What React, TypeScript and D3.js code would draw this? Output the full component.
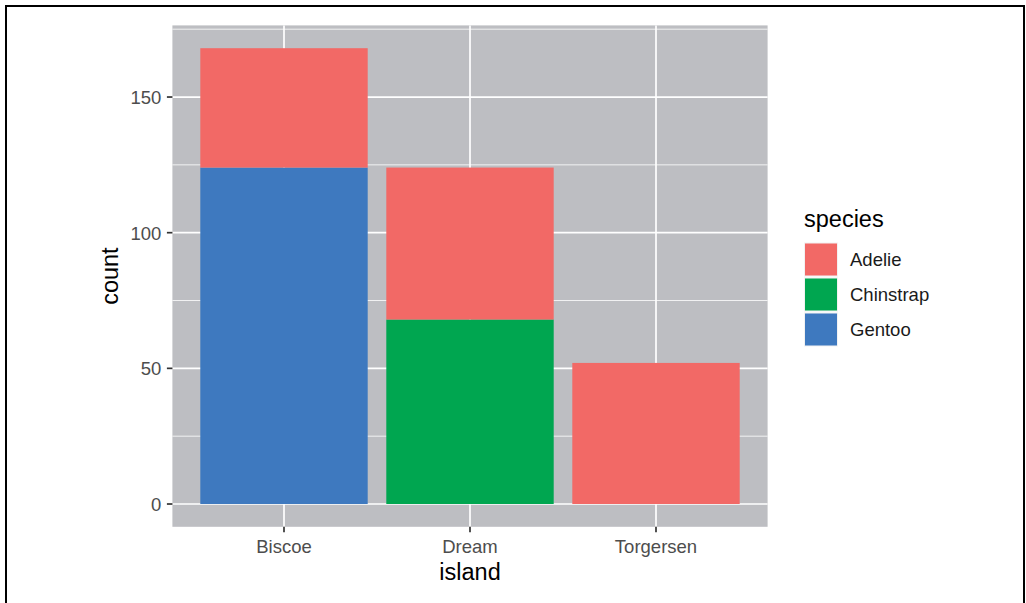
import React, { useEffect, useRef } from "react";
import * as d3 from "d3";

const islands = ["Biscoe", "Dream", "Torgersen"];
const speciesNames = ["Adelie", "Chinstrap", "Gentoo"];
const adelieCounts = [44, 56, 52];
const chinstrapCounts = [0, 68, 0];
const gentooCounts = [124, 0, 0];
const speciesColors = ["#F26966", "#00A650", "#3E79BF"];
const yMajorTicks = [0, 50, 100, 150];
const yMinorTicks = [25, 75, 125, 175];

const App: React.FC = () => {
  const svgRef = useRef<SVGSVGElement | null>(null);

  useEffect(() => {
    if (!svgRef.current) return;
    const svg = d3.select(svgRef.current);
    svg.selectAll("*").remove();

    const width = 1026;
    const height = 603;
    const font = "'Liberation Sans', Arial, sans-serif";
    const tickSize = 18.5;
    const titleSize = 23.5;

    svg.attr("width", width).attr("height", height);

    // outer frame
    svg
      .append("rect")
      .attr("x", 6)
      .attr("y", 6)
      .attr("width", 1018)
      .attr("height", 620)
      .attr("fill", "white")
      .attr("stroke", "black")
      .attr("stroke-width", 2);

    const panel = { left: 172.4, right: 767.6, top: 25.4, bottom: 526.8 };

    const rows = islands.map((island, i) => ({
      island,
      Adelie: adelieCounts[i],
      Chinstrap: chinstrapCounts[i],
      Gentoo: gentooCounts[i],
    }));
    const totals = rows.map((r) => r.Adelie + r.Chinstrap + r.Gentoo);
    const maxTotal = d3.max(totals) ?? 0;

    const y = d3
      .scaleLinear()
      .domain([-maxTotal * 0.05, maxTotal * 1.05])
      .range([panel.bottom, panel.top]);

    const x = d3
      .scalePoint<string>()
      .domain(islands)
      .range([panel.left, panel.right])
      .padding(0.6);
    const step = x.step();
    const barW = step * 0.9;

    const color = d3.scaleOrdinal<string>().domain(speciesNames).range(speciesColors);

    // panel background
    svg
      .append("rect")
      .attr("x", panel.left)
      .attr("y", panel.top)
      .attr("width", panel.right - panel.left)
      .attr("height", panel.bottom - panel.top)
      .attr("fill", "#BDBEC2");

    const grid = svg.append("g");
    grid
      .selectAll("line.minor")
      .data(yMinorTicks)
      .enter()
      .append("line")
      .attr("x1", panel.left)
      .attr("x2", panel.right)
      .attr("y1", (d) => y(d))
      .attr("y2", (d) => y(d))
      .attr("stroke", "white")
      .attr("stroke-width", 0.8);
    grid
      .selectAll("line.major")
      .data(yMajorTicks)
      .enter()
      .append("line")
      .attr("x1", panel.left)
      .attr("x2", panel.right)
      .attr("y1", (d) => y(d))
      .attr("y2", (d) => y(d))
      .attr("stroke", "white")
      .attr("stroke-width", 1.7);
    grid
      .selectAll("line.vmajor")
      .data(islands)
      .enter()
      .append("line")
      .attr("x1", (d) => x(d)!)
      .attr("x2", (d) => x(d)!)
      .attr("y1", panel.top)
      .attr("y2", panel.bottom)
      .attr("stroke", "white")
      .attr("stroke-width", 1.7);

    // stacked bars: Gentoo/Chinstrap at bottom, Adelie on top (ggplot order)
    const stack = d3
      .stack<(typeof rows)[number]>()
      .keys(["Gentoo", "Chinstrap", "Adelie"]);
    const series = stack(rows);

    series.forEach((s) => {
      svg
        .append("g")
        .selectAll("rect")
        .data(s.filter((d) => d[1] - d[0] > 0))
        .enter()
        .append("rect")
        .attr("x", (d) => x(d.data.island)! - barW / 2)
        .attr("width", barW)
        .attr("y", (d) => y(d[1]))
        .attr("height", (d) => y(d[0]) - y(d[1]))
        .attr("fill", color(s.key));
    });

    // y axis ticks + labels
    const yAxis = svg.append("g");
    yMajorTicks.forEach((t) => {
      yAxis
        .append("line")
        .attr("x1", panel.left - 5.5)
        .attr("x2", panel.left)
        .attr("y1", y(t))
        .attr("y2", y(t))
        .attr("stroke", "#333333")
        .attr("stroke-width", 1.7);
      yAxis
        .append("text")
        .attr("x", panel.left - 11)
        .attr("y", y(t))
        .attr("dy", "0.37em")
        .attr("text-anchor", "end")
        .attr("font-family", font)
        .attr("font-size", tickSize)
        .attr("fill", "#4D4D4D")
        .text(t);
    });

    // x axis ticks + labels
    const xAxis = svg.append("g");
    islands.forEach((isl) => {
      xAxis
        .append("line")
        .attr("x1", x(isl)!)
        .attr("x2", x(isl)!)
        .attr("y1", panel.bottom)
        .attr("y2", panel.bottom + 5.5)
        .attr("stroke", "#333333")
        .attr("stroke-width", 1.7);
      xAxis
        .append("text")
        .attr("x", x(isl)!)
        .attr("y", 553)
        .attr("text-anchor", "middle")
        .attr("font-family", font)
        .attr("font-size", tickSize)
        .attr("fill", "#4D4D4D")
        .text(isl);
    });

    // axis titles
    svg
      .append("text")
      .attr("x", (panel.left + panel.right) / 2)
      .attr("y", 580)
      .attr("text-anchor", "middle")
      .attr("font-family", font)
      .attr("font-size", titleSize)
      .attr("fill", "black")
      .text("island");
    svg
      .append("text")
      .attr("transform", `translate(118,${(panel.top + panel.bottom) / 2}) rotate(-90)`)
      .attr("text-anchor", "middle")
      .attr("font-family", font)
      .attr("font-size", titleSize)
      .attr("fill", "black")
      .text("count");

    // legend
    const legend = svg.append("g").attr("transform", "translate(804,0)");
    legend
      .append("text")
      .attr("x", 0)
      .attr("y", 227)
      .attr("font-family", font)
      .attr("font-size", titleSize)
      .attr("fill", "black")
      .text("species");
    speciesNames.forEach((sp, i) => {
      const top = 242.5 + i * 35;
      legend
        .append("rect")
        .attr("x", 0)
        .attr("y", top)
        .attr("width", 34)
        .attr("height", 34)
        .attr("fill", "#F2F2F2");
      legend
        .append("rect")
        .attr("x", 1)
        .attr("y", top + 1)
        .attr("width", 32)
        .attr("height", 32)
        .attr("fill", color(sp));
      legend
        .append("text")
        .attr("x", 46)
        .attr("y", top + 17)
        .attr("dy", "0.37em")
        .attr("font-family", font)
        .attr("font-size", tickSize)
        .attr("fill", "#1A1A1A")
        .text(sp);
    });
  }, []);

  return (
    <svg
      ref={svgRef}
      style={{ position: "absolute", left: 0, top: 0, display: "block" }}
    ></svg>
  );
};

export default App;
